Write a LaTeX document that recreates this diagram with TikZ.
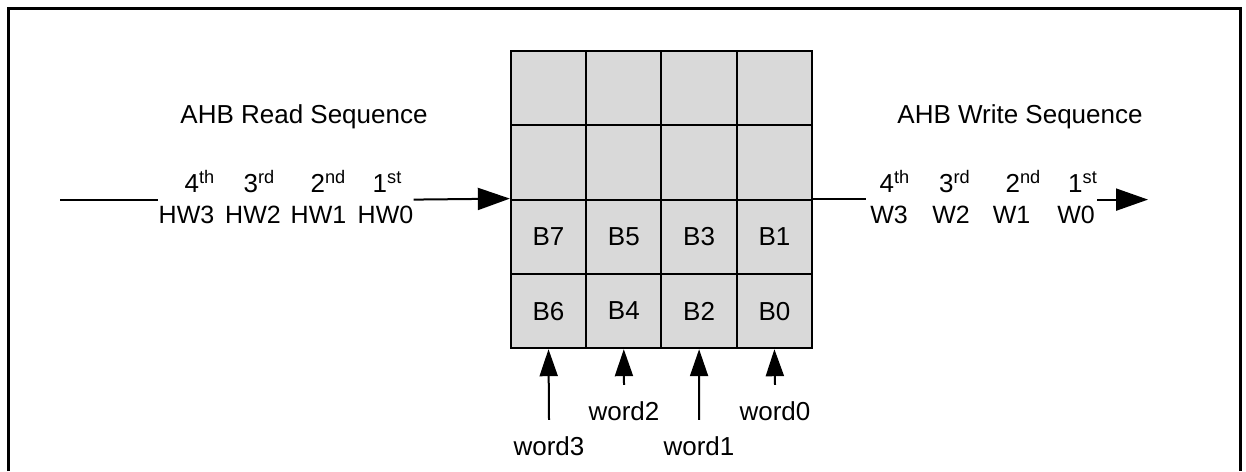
\documentclass[tikz,border=0pt]{standalone}
\usepackage{fontspec}
\setmainfont{Liberation Sans}
\usetikzlibrary{arrows.meta}
\definecolor{cellgray}{HTML}{D9D9D9}
\tikzset{
  cell/.style={draw, line width=1pt, fill=cellgray, minimum width=37.65pt,
    minimum height=37.15pt, inner sep=0pt, font=\fontsize{13}{15}\selectfont},
  lbl/.style={inner sep=0pt, anchor=base, font=\fontsize{13}{15}\selectfont},
  seq/.style={inner sep=0pt, anchor=base, font=\fontsize{12.5}{15}\selectfont},
  bigarrow/.style={line width=1pt, -{Triangle[length=16pt,width=11pt]}},
  smallarrow/.style={line width=1pt, -{Triangle[length=13.5pt,width=9pt]}},
}

\begin{document}
\begin{tikzpicture}[x=0.5pt,y=-0.5pt]
    \useasboundingbox (0,0) rectangle (1246,471);
    % frame, open at the bottom
    \draw[line width=1.5pt] (8.2,471) -- (8.2,8.8) -- (1240.2,8.8) -- (1240.2,471);

    % the buffer cells
    \foreach \c/\hi/\lo in {1/7/6,2/5/4,3/3/2,4/1/0} {
        \node[cell] (c1\c) at ({548.5+75.3*(\c-1)},88.15) {};
        \node[cell] (c2\c) at ({548.5+75.3*(\c-1)},162.45) {};
        \node[cell] (c3\c) at ({548.5+75.3*(\c-1)},236.75) {B\hi};
        \node[cell] (c4\c) at ({548.5+75.3*(\c-1)},311.05) {B\lo};
    }

    % read side
    \node[lbl] (readtitle) at (304,123) {AHB Read Sequence};
    \node[lbl] (rd4) at (200,192) {4\textsuperscript{th}};
    \node[lbl] (rd3) at (259.5,192) {3\textsuperscript{rd}};
    \node[lbl] (rd2) at (328.5,192) {2\textsuperscript{nd}};
    \node[lbl] (rd1) at (387.5,192) {1\textsuperscript{st}};
    \node[seq] (hw3) at (186.5,223) {HW3};
    \node[seq] (hw2) at (253,223) {HW2};
    \node[seq] (hw1) at (318.5,223) {HW1};
    \node[seq] (hw0) at (385.5,223) {HW0};
    \coordinate (readin) at (60,199.6);
    \draw[line width=1pt] (readin) -- (hw3.west |- readin);
    \draw[bigarrow] (hw0.east |- readin) -- (c31.north west);

    % write side
    \node[lbl] (writetitle) at (1020,123) {AHB Write Sequence};
    \node[lbl] (wr4) at (895,192) {4\textsuperscript{th}};
    \node[lbl] (wr3) at (955,192) {3\textsuperscript{rd}};
    \node[lbl] (wr2) at (1023.5,192) {2\textsuperscript{nd}};
    \node[lbl] (wr1) at (1083,192) {1\textsuperscript{st}};
    \node[seq] (w3) at (889,223) {W3};
    \node[seq] (w2) at (951,223) {W2};
    \node[seq] (w1) at (1011.5,223) {W1};
    \node[seq] (w0) at (1076,223) {W0};
    \coordinate (writeout) at (1148,199.6);
    \draw[line width=1pt] (c34.north east) -- ([xshift=-2pt]w3.west |- c34.north east);
    \draw[bigarrow] ([xshift=1pt]w0.east |- writeout) -- (writeout);

    % word inputs
    \node[lbl] (word3) at (549,455) {word3};
    \node[lbl] (word2) at (624,420) {word2};
    \node[lbl] (word1) at (699,455) {word1};
    \node[lbl] (word0) at (775,420) {word0};
    \foreach \w/\c in {word3/1,word2/2,word1/3,word0/4}
        \draw[smallarrow] ([yshift=8pt]\w.north) -- (c4\c.south);
\end{tikzpicture}
\end{document}
